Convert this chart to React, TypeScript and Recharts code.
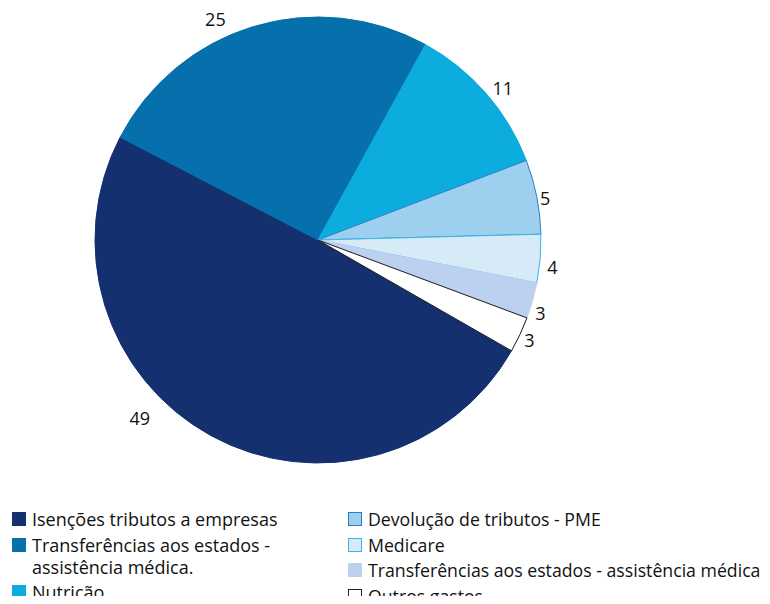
import React from 'react';
import { PieChart, Pie, Cell, Legend } from 'recharts';

const categories = [
  'Isenções tributos a empresas',
  'Transferências aos estados - assistência médica.',
  'Nutrição',
  'Devolução de tributos - PME',
  'Medicare',
  'Transferências aos estados - assistência médica',
  'Outros gastos',
];
const values = [49.4, 25.4, 11.2, 5.4, 3.5, 2.6, 2.6];
const printed = ['49', '25', '11', '5', '4', '3', '3'];

const FILLS = ['#14306f', '#0570ab', '#0cadde', '#9dd0ee', '#d6eaf7', '#bcd0ef', '#ffffff'];
const STROKES = ['#14306f', '#0570ab', '#0cadde', '#2b7fc0', '#3ab6e4', '#bcd0ef', '#1a1a1a'];
// label nudges (degrees / px beyond the rim), hand placed like the original
const LABEL_SHIFT = [-16.4, 8, -1.7, -0.7, -1.8, -2.4, -0.2];
const LABEL_GAP = [29, 21, 16, 8, 13, 11, 11];

const FONT = '"Open Sans", "Noto Sans", sans-serif';

const data = categories.map((name, i) => ({ name, value: values[i], label: printed[i] }));

const RADIAN = Math.PI / 180;

const renderLabel = (props: any) => {
  const { cx, cy, midAngle, outerRadius, index } = props;
  const a = (midAngle + LABEL_SHIFT[index]) * RADIAN;
  const r = outerRadius + LABEL_GAP[index];
  const x = cx + r * Math.cos(a);
  const y = cy - r * Math.sin(a);
  return (
    <text x={x} y={y} textAnchor="middle" dominantBaseline="central" fill="#111" fontSize={18} fontFamily={FONT}>
      {printed[index]}
    </text>
  );
};

const legendLeft = [0, 1, 2];
const legendRight = [3, 4, 5, 6];

const LegendItem = ({ i }: { i: number }) => (
  <div style={{ display: 'flex', alignItems: 'flex-start', marginBottom: 3.5, whiteSpace: 'nowrap' }}>
    <span
      style={{
        width: 14,
        height: 14,
        marginTop: 4,
        marginRight: 6,
        flex: 'none',
        boxSizing: 'border-box',
        background: FILLS[i],
        border: `1px solid ${i === 6 ? '#222' : STROKES[i]}`,
      }}
    />
    <span>{i === 1 ? <>Transferências aos estados -<br />assistência médica.</> : categories[i]}</span>
  </div>
);

const renderLegend = () => (
  <div style={{ position: 'relative', width: 770, fontFamily: FONT, fontSize: 18, lineHeight: '22px', color: '#111' }}>
    <div style={{ position: 'absolute', left: 12, top: 0 }}>
      {legendLeft.map(i => <LegendItem key={i} i={i} />)}
    </div>
    <div style={{ position: 'absolute', left: 348, top: 0, fontSize: 17.7 }}>
      {legendRight.map(i => <LegendItem key={i} i={i} />)}
    </div>
  </div>
);

export default function App() {
  return (
    <div style={{ margin: -8, width: 770, height: 604, background: '#fff', overflow: 'hidden' }}>
      <PieChart width={770} height={604} margin={{ top: 0, right: 0, bottom: 0, left: 0 }}>
        <Pie
          data={data}
          dataKey="value"
          cx={318}
          cy={240}
          outerRadius={223}
          startAngle={-29.8}
          endAngle={-389.8}
          label={renderLabel}
          labelLine={false}
          isAnimationActive={false}
        >
          {data.map((_, i) => (
            <Cell key={i} fill={FILLS[i]} stroke={STROKES[i]} strokeWidth={1} />
          ))}
        </Pie>
        <Legend content={renderLegend} wrapperStyle={{ left: 0, top: 508, width: 770 }} />
      </PieChart>
    </div>
  );
}
